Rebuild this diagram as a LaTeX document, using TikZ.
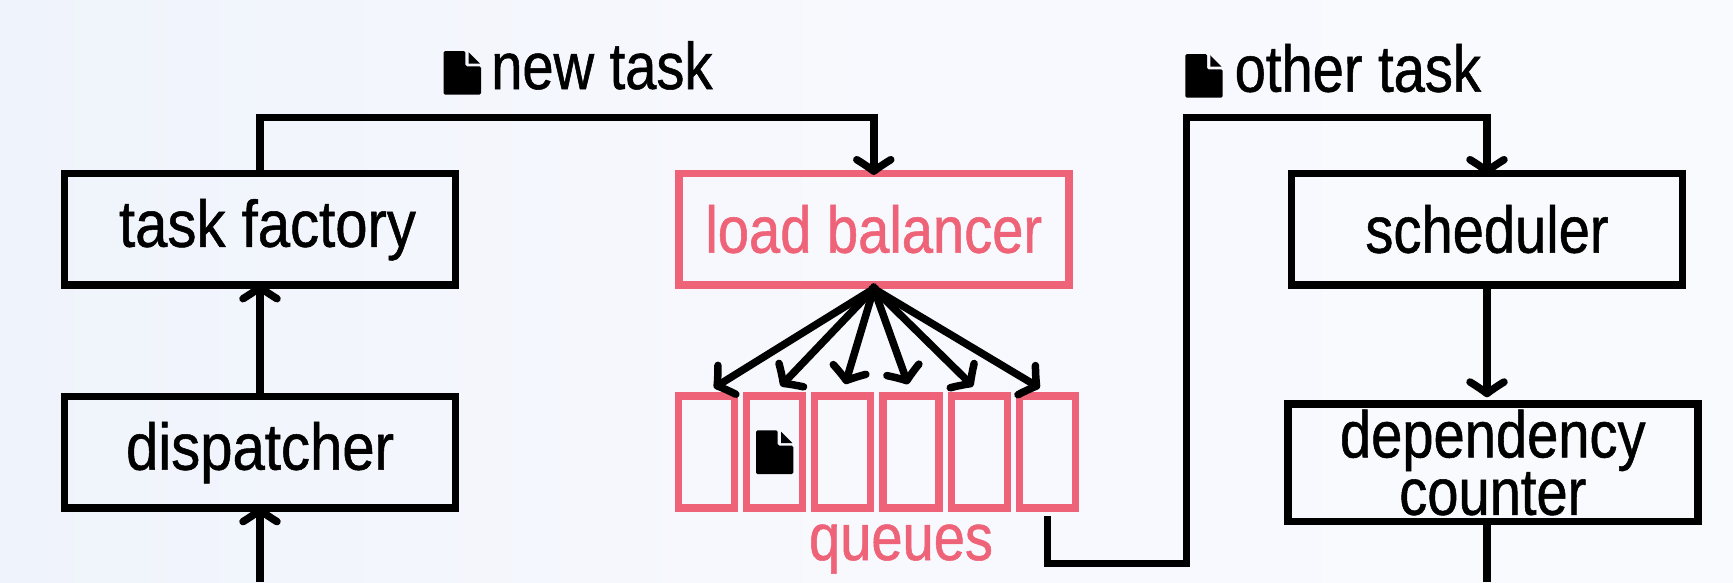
\documentclass[tikz,border=0pt]{standalone}
\usepackage{fontspec}
\setmainfont[FakeStretch=0.85,FakeBold=0.8]{Liberation Sans}
\newfontfamily\widerfont[FakeStretch=0.88,FakeBold=0.8]{Liberation Sans}
\usetikzlibrary{arrows.meta}
\definecolor{pinkline}{HTML}{EE6377}
\definecolor{bgleft}{HTML}{EFF3FB}
\definecolor{bgright}{HTML}{F9FAFE}
\pgfdeclarearrow{
  name=Flare,
  setup code={
    \pgfarrowssettipend{0pt}
    \pgfarrowssetlineend{-6pt}
    \pgfarrowssetvisualtipend{0pt}
    \pgfarrowssetbackend{-19pt}
    \pgfarrowssetvisualbackend{-6pt}
  },
  drawing code={
    \pgfsetdash{}{0pt}
    \pgfsetroundcap
    \pgfsetroundjoin
    \pgfpathmoveto{\pgfqpoint{-15pt}{17pt}}
    \pgfpathcurveto{\pgfqpoint{-12pt}{12pt}}{\pgfqpoint{-7pt}{4.5pt}}{\pgfqpoint{-3.5pt}{0pt}}
    \pgfpathcurveto{\pgfqpoint{-7pt}{-4.5pt}}{\pgfqpoint{-12pt}{-12pt}}{\pgfqpoint{-15pt}{-17pt}}
    \pgfusepathqstroke
  }
}
\tikzset{
  bigtext/.style={font=\fontsize{66}{52}\selectfont},
  box/.style={draw=black,line width=7.5pt,inner sep=0pt,align=center,bigtext,text=black},
  pinkbox/.style={draw=pinkline,line width=7.5pt,inner sep=0pt,text=pinkline},
  conn/.style={draw=black,line width=7.5pt,-Flare},
  plainconn/.style={draw=black,line width=7.5pt},
  label/.style={bigtext,inner sep=0pt,anchor=base west,text=black},
  docicon/.pic={
    \fill[black,rounded corners=1.5pt] (0,0) -- (21.7,0) -- (21.7,15.3) -- (37.3,15.3) -- (37.3,43.7) -- (0,43.7) -- cycle;
    \fill[black] (25,1.3) -- (36.3,12.7) -- (25,12.7) -- cycle;
  }
}
\begin{document}
\begin{tikzpicture}[x=1pt,y=-1pt]
\useasboundingbox (0,0) rectangle (1733,582);
\shade[left color=bgleft,right color=bgright,middle color=bgright!85!bgleft] (0,0) rectangle (1733,582);

\node[box,minimum width=391pt,minimum height=111.5pt,text height=35.2pt,text depth=0pt] (tf) at (260,229.2) {\widerfont\hspace*{15pt}task factory};
\node[box,minimum width=391pt,minimum height=111.5pt,text height=35.2pt,text depth=0pt] (disp) at (260,452.1) {\widerfont dispatcher};
\node[pinkbox,bigtext,minimum width=390pt,minimum height=111.5pt,text height=47pt,text depth=0pt] (lb) at (873.8,229.2) {load balancer};
\node[box,minimum width=391pt,minimum height=111.5pt,text height=47pt,text depth=0pt] (sched) at (1487,229.2) {scheduler};
\node[box,minimum width=410pt,minimum height=117.5pt] (dep) at (1492.8,462.5) {dependency\\counter};

\foreach \i/\x in {1/706.5,2/774.7,3/842.7,4/911,5/979.3,6/1047.3}
  \node[pinkbox,minimum width=56pt,minimum height=112pt] (q\i) at (\x,452.2) {};

\node[bigtext,inner sep=0pt,anchor=base,text=pinkline] (qlabel) at (901,560) {queues};
\node[label] (newlabel) at (491,89) {new task};
\node[label] (otherlabel) at (1234.5,91.7) {other task};

\pic at (443.7,51) {docicon};
\pic at (1185.3,54) {docicon};
\pic at (756,430.3) {docicon};

\coordinate (top1) at (260,117.7);
\coordinate (down) at (1186.4,563.5);
\coordinate (up) at (1186.4,117.7);
\coordinate (bottomA) at (260,582);
\coordinate (bottomB) at (1487,582);

\draw[conn,shorten >=-5pt] (bottomA) -- (disp.south);
\draw[conn,shorten >=-5pt] (disp.north) -- (tf.south);
\draw[conn,shorten >=-5pt] (tf.north) -- (top1) -| (lb.north);
\foreach \i in {1,...,6}
  \draw[conn,shorten >=9pt,shorten <=-4pt] (lb.south) -- (q\i.north);
\draw[conn,shorten <=4pt,shorten >=-5pt] (q6.south) |- (down) -- (up) -| (sched.north);
\draw[conn,shorten >=3pt] (sched.south) -- (sched.south |- dep.north);
\draw[plainconn] (sched.south |- dep.south) -- (bottomB);
\end{tikzpicture}
\end{document}
